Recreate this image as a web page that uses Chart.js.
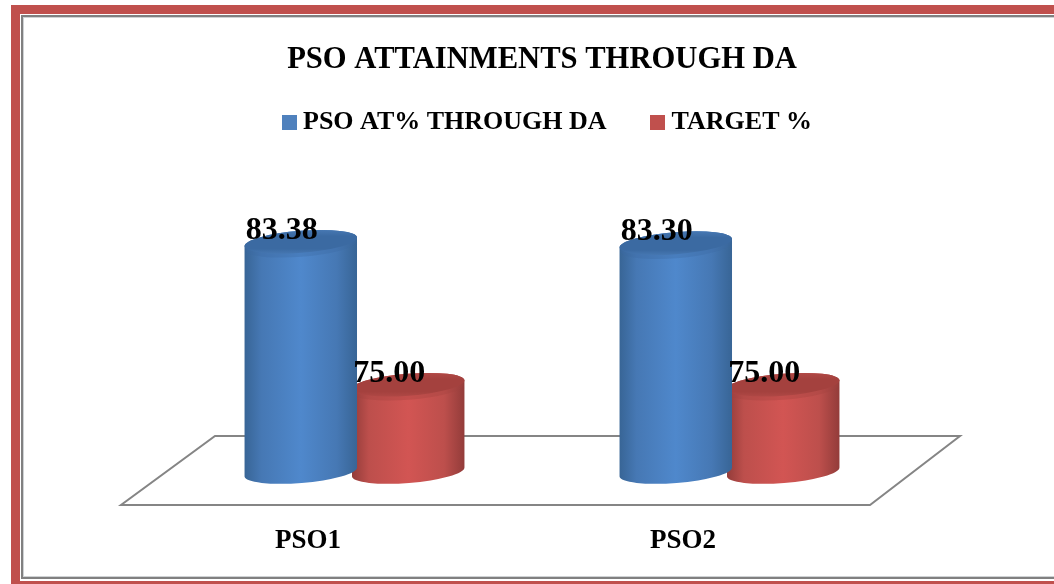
<!DOCTYPE html>
<html>
<head>
<meta charset="utf-8">
<script src="https://cdn.jsdelivr.net/npm/chart.js@4"></script>
<style>
    html, body { margin: 0; padding: 0; background: #fff; overflow: hidden; }
    #page { position: relative; width: 1054px; height: 584px; overflow: hidden; }
    #frame_red { position: absolute; left: 11px; top: 5px; width: 1200px; height: 567px; border: 9px solid #C0504D; }
    #frame_grey { position: absolute; left: 21px; top: 15px; width: 1200px; height: 560px; border: 2px solid #808080; box-shadow: inset 0 0 0 1px #cfd2d4; }
    #chart_canvas { position: absolute; left: 0; top: 0; }
</style>
</head>
<body>
<div id="page">
    <div id="frame_red"></div>
    <div id="frame_grey"></div>
    <canvas id="chart_canvas" width="1054" height="584"></canvas>
</div>
<script>
const categories = ['PSO1', 'PSO2'];
const attainment = [83.38, 83.30];
const target = [75.00, 75.00];
const seriesNames = ['PSO AT% THROUGH DA', 'TARGET %'];
const chartTitle = 'PSO ATTAINMENTS THROUGH DA';
const axisMin = 70;
const axisMax = 87.9;

const serifFont = '"Liberation Serif", serif';
const blue = { main: '#4678b4', light: '#4f88cc', dark: '#386596', top: '#3b6aa2', rim: '#4a7cb8' };
const red = { main: '#bd4f4c', light: '#d25553', dark: '#933c3a', top: '#a4413e', rim: '#b54b48' };
const palette = [blue, red];

// legend square, drawn from a small canvas so the text can sit close to it
function swatch(color) {
    const c = document.createElement('canvas');
    c.width = 15;
    c.height = 15;
    const g = c.getContext('2d');
    g.fillStyle = color;
    g.fillRect(0, 0, 15, 15);
    return c;
}

function drawCylinder(ctx, el, colors) {
    const rx = el.width / 2;
    const ry = 11;
    const tilt = -4.5 * Math.PI / 180;
    const dx = rx * Math.cos(tilt);
    const dy = rx * Math.sin(tilt);
    const topY = el.y;
    const baseY = el.base + 2;

    const body = ctx.createLinearGradient(el.x - dx, 0, el.x + dx, 0);
    body.addColorStop(0, colors.dark);
    body.addColorStop(0.15, colors.main);
    body.addColorStop(0.5, colors.light);
    body.addColorStop(0.82, colors.main);
    body.addColorStop(1, colors.dark);

    ctx.save();
    ctx.beginPath();
    ctx.moveTo(el.x - dx, topY - dy);
    ctx.lineTo(el.x - dx, baseY - dy);
    ctx.ellipse(el.x, baseY, rx, ry, tilt, Math.PI, 0, true);
    ctx.lineTo(el.x + dx, topY + dy);
    ctx.ellipse(el.x, topY, rx, ry, tilt, 0, Math.PI, true);
    ctx.closePath();
    ctx.fillStyle = body;
    ctx.fill();

    // soft edge under the top face
    ctx.globalAlpha = 0.35;
    ctx.beginPath();
    ctx.ellipse(el.x, topY + 4, rx - 1, ry, tilt, 0, Math.PI * 2);
    ctx.fillStyle = colors.top;
    ctx.fill();
    ctx.globalAlpha = 1;

    const face = ctx.createLinearGradient(0, topY - ry - 3, 0, topY + ry + 3);
    face.addColorStop(0, colors.rim);
    face.addColorStop(0.3, colors.top);
    face.addColorStop(0.75, colors.top);
    face.addColorStop(1, colors.rim);
    ctx.beginPath();
    ctx.ellipse(el.x, topY, rx, ry, tilt, 0, Math.PI * 2);
    ctx.fillStyle = face;
    ctx.fill();
    ctx.restore();
}

const cylinderPlugin = {
    id: 'cylinders',
    afterLayout(chart) {
        // the legend sits a bit right of and above where the layout puts it
        const legend = chart.legend;
        legend.left += 8;
        legend.right += 8;
        legend.top -= 19.5;
        legend.bottom -= 19.5;
    },
    beforeDatasetsDraw(chart) {
        const { ctx, chartArea } = chart;
        ctx.save();
        ctx.strokeStyle = '#858585';
        ctx.lineWidth = 2;
        ctx.lineJoin = 'miter';
        ctx.beginPath();
        ctx.moveTo(chartArea.left - 46, chartArea.bottom + 35);
        ctx.lineTo(chartArea.right - 47, chartArea.bottom + 35);
        ctx.lineTo(chartArea.right + 43, chartArea.bottom - 34);
        ctx.lineTo(chartArea.left + 48, chartArea.bottom - 34);
        ctx.closePath();
        ctx.stroke();
        ctx.restore();
    },
    beforeDatasetDraw(chart, args) {
        args.meta.data.forEach(el => drawCylinder(chart.ctx, el, palette[args.index]));
        return false;
    },
    afterDatasetsDraw(chart) {
        const ctx = chart.ctx;
        ctx.save();
        ctx.font = 'bold 32px ' + serifFont;
        ctx.fillStyle = '#000';
        ctx.textAlign = 'center';
        ctx.textBaseline = 'middle';
        chart.data.datasets.forEach((ds, i) => {
            chart.getDatasetMeta(i).data.forEach((el, j) => {
                ctx.fillText(ds.data[j].toFixed(2), el.x - 19, el.y - 11);
            });
        });
        ctx.restore();
    }
};

function loaded() {
    new Chart(document.getElementById('chart_canvas'), {
        type: 'bar',
        data: {
            labels: categories,
            datasets: [
                { label: seriesNames[0], data: attainment, base: axisMin, backgroundColor: '#4F81BD' },
                { label: seriesNames[1], data: target, base: axisMin, backgroundColor: '#C0504D' }
            ]
        },
        options: {
            responsive: false,
            animation: false,
            categoryPercentage: 0.573,
            barPercentage: 1.05,
            layout: { padding: { left: 167, right: 137, top: 42, bottom: 28 } },
            scales: {
                y: { display: false, min: axisMin, max: axisMax },
                x: {
                    afterFit(scale) {
                        scale.height = 86;
                    },
                    grid: { display: false },
                    border: { display: false },
                    ticks: {
                        color: '#000',
                        padding: 47,
                        labelOffset: -46.5,
                        maxRotation: 0,
                        font: { family: serifFont, size: 27, weight: 'bold' }
                    }
                }
            },
            plugins: {
                title: {
                    display: true,
                    text: chartTitle,
                    color: '#000',
                    padding: 0,
                    font: { family: serifFont, size: 30.6, weight: 'bold' }
                },
                legend: {
                    display: true,
                    position: 'top',
                    labels: {
                        color: '#000',
                        padding: 50,
                        usePointStyle: true,
                        boxHeight: 15,
                        pointStyleWidth: 2,
                        font: { family: serifFont, size: 26, weight: 'bold' },
                        generateLabels: chart => chart.data.datasets.map((ds, i) => ({
                            text: ds.label,
                            fontColor: '#000',
                            pointStyle: swatch(ds.backgroundColor),
                            datasetIndex: i
                        }))
                    }
                },
                tooltip: { enabled: false }
            }
        },
        plugins: [cylinderPlugin]
    });
}

loaded();
</script>
</body>
</html>
